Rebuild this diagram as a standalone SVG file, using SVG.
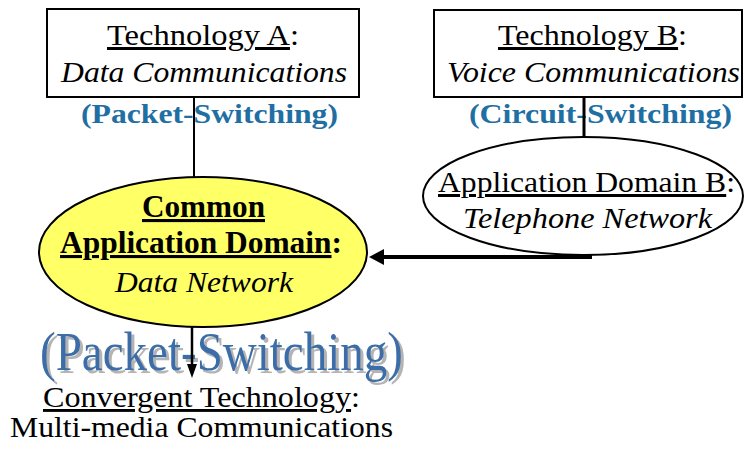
<svg xmlns="http://www.w3.org/2000/svg" width="744" height="450" viewBox="0 0 744 450">
<style>
text{font-family:"Liberation Serif","Times New Roman",serif}
.t{font-size:30px;fill:#000}
.i{font-style:italic}
.b{font-weight:bold}
.u{text-decoration:underline}
.lbl{font-size:27px;font-weight:bold;fill:#1f6fa3}
.wa{font-size:54px;fill:#3a6ea8}
.box{fill:#fff;stroke:#000;stroke-width:2}
.conn{stroke:#000;fill:none}
</style>
<defs>
<filter id="waShadow" x="-5%" y="-20%" width="115%" height="150%">
<feOffset in="SourceAlpha" dx="3" dy="3" result="off"/>
<feFlood flood-color="#b4b4b4"/>
<feComposite in2="off" operator="in" result="sh"/>
<feMerge><feMergeNode in="sh"/><feMergeNode in="SourceGraphic"/></feMerge>
</filter>
<marker id="ahBig" markerUnits="userSpaceOnUse" viewBox="0 0 15 16" markerWidth="15" markerHeight="16" refX="0" refY="8" orient="auto"><path d="M0,0 L15,8 L0,16 z" fill="#000"/></marker>
<marker id="ahSmall" markerUnits="userSpaceOnUse" viewBox="0 0 14 10" markerWidth="14" markerHeight="10" refX="0" refY="5" orient="auto"><path d="M0,0 L14,5 L0,10 z" fill="#000"/></marker>
</defs>

<g id="techA">
<rect class="box" x="47" y="9" width="312" height="88"/>
<text class="t" x="107" y="45" textLength="192" lengthAdjust="spacingAndGlyphs"><tspan class="u">Technology A</tspan>:</text>
<text class="t i" x="61" y="82" textLength="286" lengthAdjust="spacingAndGlyphs">Data Communications</text>
<text class="lbl" x="81" y="123" textLength="257" lengthAdjust="spacingAndGlyphs">(Packet-Switching)</text>
</g>

<g id="techB">
<rect class="box" x="434" y="10" width="308" height="87"/>
<text class="t" x="498" y="45" textLength="189" lengthAdjust="spacingAndGlyphs"><tspan class="u">Technology B</tspan>:</text>
<text class="t i" x="447" y="82" textLength="293" lengthAdjust="spacingAndGlyphs">Voice Communications</text>
<text class="lbl" x="469" y="123" textLength="263" lengthAdjust="spacingAndGlyphs">(Circuit-Switching)</text>
</g>

<g id="domainB">
<ellipse cx="583" cy="196" rx="160" ry="59" fill="#fff" stroke="#000" stroke-width="2"/>
<text class="t" x="438" y="192" textLength="297" lengthAdjust="spacingAndGlyphs"><tspan class="u">Application Domain B</tspan>:</text>
<text class="t i" x="463" y="228" textLength="249" lengthAdjust="spacingAndGlyphs">Telephone Network</text>
</g>

<g id="commonDomain">
<ellipse cx="203" cy="252" rx="164" ry="75" fill="#ffff66" stroke="#000" stroke-width="2"/>
<text class="t b u" style="font-size:31px" x="142" y="217" textLength="123" lengthAdjust="spacingAndGlyphs">Common</text>
<text class="t b" style="font-size:31px" x="60" y="253" textLength="282" lengthAdjust="spacingAndGlyphs"><tspan class="u">Application Domain</tspan>:</text>
<text class="t i" x="115" y="292" textLength="178" lengthAdjust="spacingAndGlyphs">Data Network</text>
</g>

<g id="packetSwitchingArt">
<text class="wa" x="40" y="370" textLength="363" lengthAdjust="spacingAndGlyphs" filter="url(#waShadow)">(Packet-Switching)</text>
</g>

<g id="convergent">
<text class="t" style="font-size:29px" x="43" y="407" textLength="317" lengthAdjust="spacingAndGlyphs"><tspan class="u">Convergent Technology</tspan>:</text>
<text class="t" style="font-size:29px" x="10" y="437" textLength="383" lengthAdjust="spacingAndGlyphs">Multi-media Communications</text>
</g>

<g id="connectors">
<line class="conn" x1="194" y1="97" x2="194" y2="177" stroke-width="2"/>
<line class="conn" x1="584" y1="97" x2="584" y2="137" stroke-width="3"/>
<line class="conn" x1="592" y1="257" x2="384" y2="257" stroke-width="4" marker-end="url(#ahBig)"/>
<line class="conn" x1="192" y1="327" x2="192" y2="364" stroke-width="2.5" marker-end="url(#ahSmall)"/>
</g>
</svg>
